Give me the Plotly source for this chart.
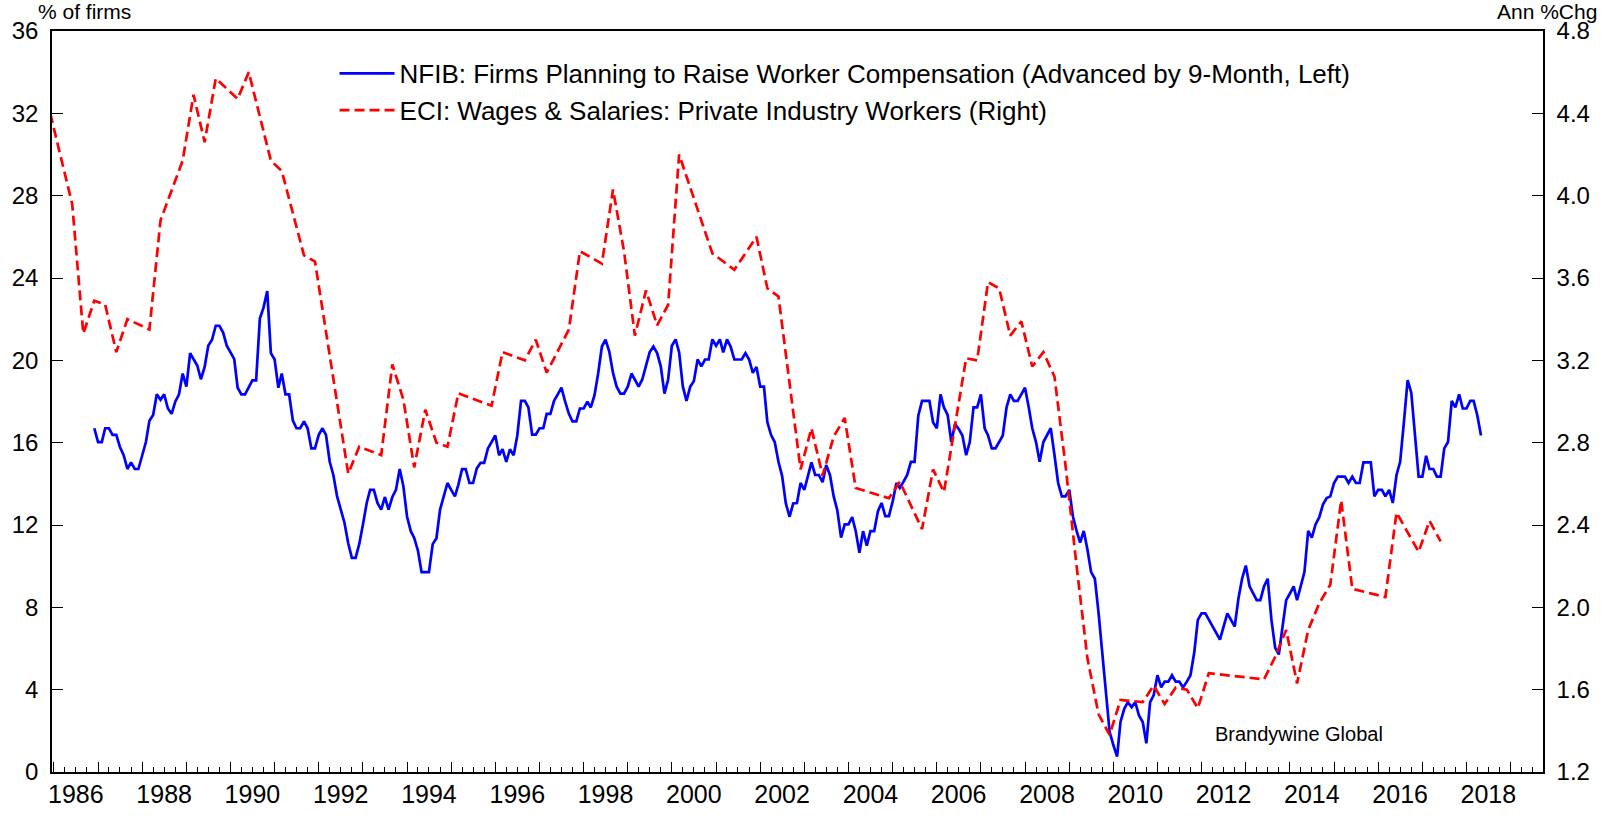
import pandas as pd
import plotly.graph_objects as go

# ---------------- data ----------------
# NFIB: % of firms planning to raise worker compensation (advanced 9 months), monthly from Dec-1986
nfib_start = "1986-12-01"
nfib_1986 = [16.70]
nfib_1987 = [16.03, 16.03, 16.70, 16.70, 16.38, 16.38, 15.79, 15.39, 14.72, 15.04, 14.72, 14.72]
nfib_1988 = [None, 16.03, 17.07, 17.35, 18.35, 18.08, 18.35, 17.66, 17.40, 17.99, 18.35, 19.36]
nfib_1989 = [18.72, 20.35, 20.06, 19.75, 19.08, 19.68, 20.71, 21.00, 21.68, 21.68, 21.35, 20.71]
nfib_1990 = [20.39, 20.06, 18.67, 18.35, 18.35, 18.72, 19.03, 19.03, 22.03, 22.56, 23.36, 20.35]
nfib_1991 = [20.04, 18.67, 19.36, 18.35, 18.35, 17.07, 16.70, 16.70, 17.03, 16.70, 15.72, 15.72]
nfib_1992 = [16.38, 16.70, 16.38, 15.07, 14.43, 13.39, 12.75, 12.11, 11.11, 10.40, 10.40, 11.07]
nfib_1993 = [12.03, 13.07, 13.71, 13.71, 13.07, 12.75, 13.36, 12.75, 13.36, 13.71, 14.72, 13.90]
nfib_1994 = [12.40, 11.70, 11.37, 10.75, 9.71, 9.71, 9.71, 11.07, 11.36, 12.75, 13.43, 14.04]
nfib_1995 = [13.71, 13.39, 13.95, 14.71, 14.71, 14.04, 14.04, 14.75, 15.02, 15.02, 15.72, 16.03]
nfib_1996 = [16.35, 15.39, 15.68, 15.07, 15.68, 15.39, 16.35, 18.03, 18.03, 17.71, 16.39, 16.39]
nfib_1997 = [16.70, 16.70, 17.40, 17.40, 18.03, 18.35, 18.67, 17.99, 17.40, 17.03, 17.03, 17.66]
nfib_1998 = [17.66, 17.99, 17.71, 18.31, 19.36, 20.67, 21.00, 20.43, 19.39, 18.72, 18.38, 18.38]
nfib_1999 = [18.72, 19.36, 19.04, 18.72, 19.07, 19.71, 20.39, 20.67, 20.35, 19.71, 18.38, 19.07]
nfib_2000 = [20.71, 21.02, 20.39, 18.72, 18.03, 18.72, 18.99, 20.04, 19.71, 20.04, 20.04, 21.02]
nfib_2001 = [20.71, 21.02, 20.39, 21.02, 20.67, 20.04, 20.04, 20.04, 20.35, 20.04, 19.39, 19.68]
nfib_2002 = [18.72, 18.72, 17.00, 16.37, 16.03, 15.07, 14.39, 13.05, 12.40, 13.05, 13.07, 14.04]
nfib_2003 = [13.71, 14.35, 15.04, 14.43, 14.43, 14.08, 14.91, 14.43, 13.39, 12.71, 11.39, 12.03]
nfib_2004 = [12.03, 12.38, 11.71, 10.65, 11.70, 11.00, 11.70, 11.70, 12.67, 13.07, 12.43, 12.43]
nfib_2005 = [13.15, 14.04, 13.80, 14.11, 14.43, 15.07, 15.07, 17.31, 18.03, 18.03, 18.03, 16.99]
nfib_2006 = [16.70, 18.35, 17.71, 17.35, 16.03, 16.91, 16.67, 16.35, 15.39, 16.03, 17.71, 17.71]
nfib_2007 = [18.35, 16.70, 16.35, 15.72, 15.72, 16.03, 16.35, 17.71, 18.35, 18.03, 18.03, 18.35]
nfib_2008 = [18.67, 17.71, 16.70, 16.03, 15.07, 16.03, 16.35, 16.70, 15.39, 14.04, 13.39, 13.39]
nfib_2009 = [13.71, 12.40, 11.75, 11.15, 11.71, 10.80, 9.71, 9.39, 7.71, 5.79, 3.71, 1.95]
nfib_2010 = [1.31, 0.75, 2.43, 3.07, 3.39, 3.15, 3.39, 2.75, 2.43, 1.39, 3.39, 3.74]
nfib_2011 = [4.70, 4.11, 4.39, 4.39, 4.70, 4.39, 4.39, 4.11, 4.39, 4.70, 5.79, 7.39]
nfib_2012 = [7.71, 7.71, None, None, None, 6.43, None, 7.71, None, 7.07, 8.43, 9.39]
nfib_2013 = [10.03, 9.02, 8.67, 8.35, 8.35, 9.02, 9.39, 7.39, 6.03, 5.71, 7.07, 8.35]
nfib_2014 = [8.67, 9.02, 8.35, None, 9.71, 11.71, 11.39, 12.03, 12.38, 12.99, 13.31, 13.39]
nfib_2015 = [14.04, 14.35, 14.35, 14.35, 14.04, 14.35, 14.04, 14.04, 15.04, 15.04, 15.04, 13.39]
nfib_2016 = [13.71, 13.71, 13.39, 13.71, 13.07, 14.43, 15.07, 16.99, 19.04, 18.43, 16.19, 14.35]
nfib_2017 = [14.35, 15.36, 14.72, 14.72, 14.35, 14.35, 15.72, 16.03, 18.03, 17.71, 18.35, 17.66]
nfib_2018 = [17.66, 18.03, 18.03, 17.31, 16.35]

# ECI: wages & salaries, private industry workers, y/y % (quarterly observations)
eci_dates = [
    "1985-12", "1986-06", "1986-09", "1986-12", "1987-03", "1987-06", "1987-09", "1988-03",
    "1988-06", "1988-12", "1989-03", "1989-06", "1989-09", "1990-03", "1990-06", "1990-12",
    "1991-03", "1991-09", "1991-12", "1992-09", "1992-12", "1993-06", "1993-09", "1993-12",
    "1994-03", "1994-06", "1994-09", "1994-12", "1995-03", "1995-12", "1996-03", "1996-09",
    "1996-12", "1997-03", "1997-09", "1997-12", "1998-06", "1998-09", "1998-12", "1999-03",
    "1999-06", "1999-09", "1999-12", "2000-03", "2000-12", "2001-06", "2001-12", "2002-03",
    "2002-06", "2002-12", "2003-03", "2003-06", "2003-09", "2003-12", "2004-03", "2004-12",
    "2005-03", "2005-09", "2005-12", "2006-03", "2006-09", "2006-12", "2007-03", "2007-06",
    "2007-09", "2007-12", "2008-03", "2008-06", "2008-09", "2008-12", "2009-03", "2009-06",
    "2009-09", "2009-12", "2010-03", "2010-09", "2010-12", "2011-03", "2011-06", "2011-09",
    "2011-12", "2012-03", "2013-06", "2013-09", "2013-12", "2014-03", "2014-06", "2014-09",
    "2014-12", "2015-03", "2015-06", "2016-03", "2016-06", "2016-12", "2017-03", "2017-06",
]
eci_values = [
    4.40, 3.96, 3.33, 3.49, 3.47, 3.24, 3.40, 3.35,
    3.88, 4.17, 4.49, 4.26, 4.57, 4.47, 4.60, 4.17,
    4.12, 3.71, 3.68, 2.65, 2.78, 2.74, 3.18, 3.01,
    2.68, 2.96, 2.80, 2.78, 3.04, 2.98, 3.24, 3.20,
    3.30, 3.14, 3.35, 3.73, 3.67, 4.03, 3.73, 3.32,
    3.54, 3.37, 3.47, 4.20, 3.72, 3.64, 3.80, 3.55,
    3.51, 2.67, 2.87, 2.64, 2.83, 2.92, 2.58, 2.53,
    2.61, 2.38, 2.67, 2.56, 3.21, 3.20, 3.58, 3.55,
    3.32, 3.39, 3.17, 3.24, 3.12, 2.69, 2.21, 1.75,
    1.48, 1.38, 1.55, 1.54, 1.62, 1.53, 1.61, 1.60,
    1.51, 1.68, 1.65, 1.76, 1.89, 1.63, 1.89, 2.02,
    2.11, 2.52, 2.09, 2.05, 2.46, 2.27, 2.42, 2.32,
]

x_label_years = ["1986", "1988", "1990", "1992", "1994", "1996", "1998", "2000", "2002",
                 "2004", "2006", "2008", "2010", "2012", "2014", "2016", "2018"]

nfib_name = "NFIB: Firms Planning to Raise Worker Compensation (Advanced by 9-Month, Left)"
eci_name = "ECI: Wages & Salaries: Private Industry Workers (Right)"

# ---------------- build ----------------
nfib_values = (nfib_1986 + nfib_1987 + nfib_1988 + nfib_1989 + nfib_1990 + nfib_1991 + nfib_1992
               + nfib_1993 + nfib_1994 + nfib_1995 + nfib_1996 + nfib_1997 + nfib_1998 + nfib_1999
               + nfib_2000 + nfib_2001 + nfib_2002 + nfib_2003 + nfib_2004 + nfib_2005 + nfib_2006
               + nfib_2007 + nfib_2008 + nfib_2009 + nfib_2010 + nfib_2011 + nfib_2012 + nfib_2013
               + nfib_2014 + nfib_2015 + nfib_2016 + nfib_2017 + nfib_2018)
nfib_dates = pd.date_range(nfib_start, periods=len(nfib_values), freq="MS")
eci_x = pd.to_datetime([d + "-01" for d in eci_dates])
label_pos = [y + "-07-01" for y in x_label_years]

FONT = "Arial, Liberation Sans, sans-serif"
XRANGE = ["1985-12-16", "2019-09-26"]

fig = go.Figure()
fig.add_trace(go.Scatter(
    x=eci_x, y=eci_values, name=eci_name, mode="lines", yaxis="y2",
    line=dict(color="#FF0000", width=2.7, dash="10px,5px"), legendrank=2,
))
fig.add_trace(go.Scatter(
    x=nfib_dates, y=nfib_values, name=nfib_name, mode="lines", connectgaps=True,
    line=dict(color="#0000FF", width=2.7), legendrank=1,
))
# carrier trace for the label axis (no marks)
fig.add_trace(go.Scatter(x=[], y=[], xaxis="x2", yaxis="y", showlegend=False, hoverinfo="skip"))

fig.update_layout(
    width=1602, height=820,
    margin=dict(l=47, r=56, t=31, b=39),
    paper_bgcolor="white", plot_bgcolor="white",
    font=dict(family=FONT, color="black"),
    showlegend=True,
    legend=dict(x=0.1895, y=0.9745, xanchor="left", yanchor="top", itemwidth=55,
                bgcolor="rgba(0,0,0,0)", borderwidth=0, font=dict(size=26, family=FONT)),
    xaxis=dict(
        type="date", range=XRANGE, showline=True, linecolor="black", linewidth=1.5, mirror=True,
        showgrid=False, zeroline=False, showticklabels=False,
        ticks="inside", ticklen=10, tickwidth=1, tickcolor="black",
        tickmode="linear", tick0="1986-01-01", dtick="M12",
        minor=dict(ticks="inside", ticklen=5, tickwidth=1, tickcolor="black",
                   dtick="M3", tick0="1986-01-01", showgrid=False),
    ),
    xaxis2=dict(
        type="date", range=XRANGE, overlaying="x", anchor="y", side="bottom",
        showline=False, showgrid=False, zeroline=False, ticks="",
        tickmode="array", tickvals=label_pos, ticktext=x_label_years,
        tickfont=dict(size=25, family=FONT), ticklabelstandoff=5,
    ),
    yaxis=dict(
        range=[0, 36], tickmode="linear", tick0=0, dtick=4,
        showline=True, linecolor="black", linewidth=1.5, mirror=True,
        showgrid=False, zeroline=False,
        ticks="inside", ticklen=11, tickwidth=1, tickcolor="black",
        tickfont=dict(size=24, family=FONT), ticklabelstandoff=7,
    ),
    yaxis2=dict(
        range=[1.2, 4.8], overlaying="y", side="right", anchor="x",
        tickmode="linear", tick0=1.2, dtick=0.4, tickformat=".1f",
        showline=True, linecolor="black", linewidth=1.5,
        showgrid=False, zeroline=False,
        ticks="inside", ticklen=11, tickwidth=1, tickcolor="black",
        tickfont=dict(size=24, family=FONT), ticklabelstandoff=7,
    ),
    annotations=[
        dict(text="% of firms", xref="paper", yref="paper", x=-0.0107, y=1.0267,
             xanchor="left", yanchor="middle", showarrow=False, font=dict(size=21, family=FONT)),
        dict(text="Ann %Chg", xref="paper", yref="paper", x=1.0373, y=1.0267,
             xanchor="right", yanchor="middle", showarrow=False, font=dict(size=21, family=FONT)),
        dict(text="Brandywine Global", xref="paper", yref="paper", x=0.8366, y=0.051,
             xanchor="center", yanchor="middle", showarrow=False, font=dict(size=20, family=FONT)),
    ],
)

fig.write_html("out.html", config={"displayModeBar": False},
               post_script="document.body.style.margin='0px';document.body.style.overflow='hidden';")
